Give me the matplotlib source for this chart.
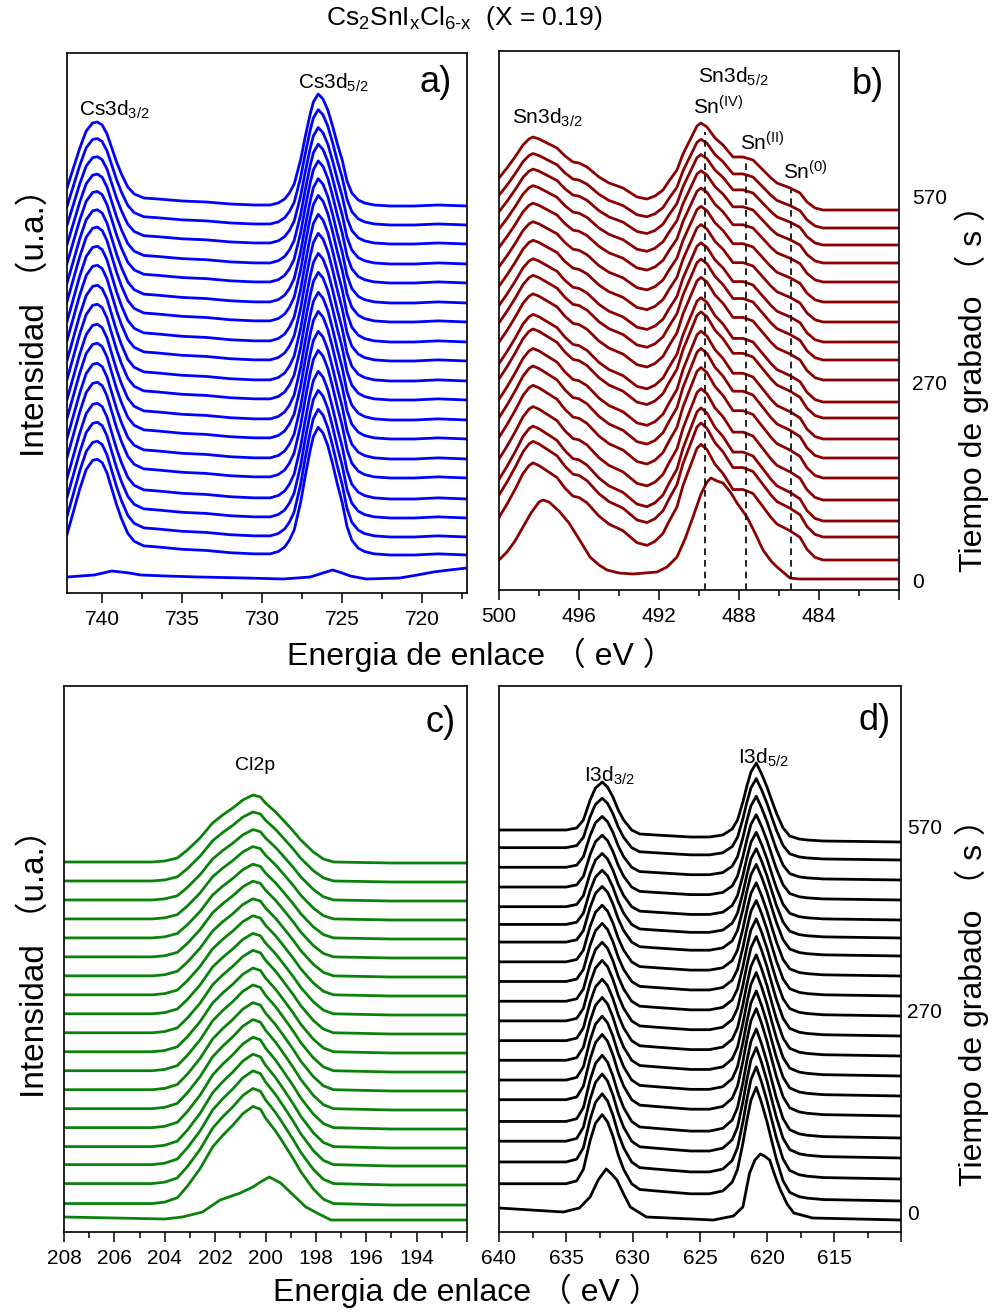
import numpy as np
import matplotlib
matplotlib.use("Agg")
import matplotlib.pyplot as plt
from matplotlib.ticker import MultipleLocator

W, H = 999, 1316

FONT = "Liberation Sans"
plt.rcParams["font.family"] = [FONT, "Noto Sans CJK SC", "DejaVu Sans"]
plt.rcParams["mathtext.fontset"] = "custom"
plt.rcParams["mathtext.rm"] = FONT
plt.rcParams["mathtext.it"] = FONT + ":italic"

# etching times, top (570 s) down to 30 s; the 0 s spectrum is kept apart
TIMES = [570, 540, 510, 480, 450, 420, 390, 360, 330, 300,
         270, 240, 210, 180, 150, 120, 90, 60, 30]

# ---------------- a) Cs3d ----------------
A_E = [742.2, 741.8, 741.4, 741.0, 740.6, 740.3, 740.0, 739.7, 739.4, 739.1,
       738.8, 738.4, 738.0, 737.4, 736.5, 735.0, 733.5, 732.0, 730.5, 729.5,
       729.0, 728.6, 728.3, 728.0, 727.6, 727.3, 727.0, 726.8, 726.5, 726.2,
       725.9, 725.6, 725.3, 725.0, 724.7, 724.4, 724.0, 723.6, 723.0, 722.0,
       720.5, 719.0, 717.2]
A_TOP = [18, 38, 58, 75, 83, 84, 81, 72, 58, 44,
         32, 19, 12, 8, 7, 5, 4, 2, 1, 1,
         3, 7, 13, 22, 46, 70, 92, 104, 112, 107,
         96, 80, 62, 46, 25, 13, 6, 3, 1, 0,
         0, 1, 0]
A_OFFSET = [387, 368, 349, 329, 310, 290, 271, 251, 232, 212,
            193, 173, 154, 134, 115, 94, 75, 56, 38]
A_SCALE = [1.00, 1.03, 1.04, 1.07, 1.09, 1.11, 1.13, 1.14, 1.14, 1.14,
           1.14, 1.14, 1.14, 1.14, 1.14, 1.14, 1.14, 1.14, 1.14]
A0_E = [742.2, 740.5, 739.4, 738.3, 737.6, 736.0, 734.0, 731.0, 728.7, 727.0,
        726.2, 725.6, 725.0, 724.5, 723.5, 721.4, 720.3, 719.3, 718.3, 717.2]
A0 = [16, 18, 22, 20, 18, 17, 16, 15, 14, 16,
      20, 23, 20, 17, 14, 15, 18, 21, 23, 25]

# ---------------- b) Sn3d ----------------
B_E = [500.0, 499.6, 499.2, 498.8, 498.5, 498.3, 498.0, 497.6, 497.1, 496.7,
       496.3, 496.0, 495.6, 495.0, 494.5, 493.8, 493.1, 492.6, 492.2, 491.8,
       491.5, 491.1, 490.8, 490.45, 490.1, 489.9, 489.6, 489.2, 488.8, 488.3,
       487.8, 487.3, 486.8, 486.4, 486.1, 485.45, 484.95, 484.6, 484.2, 483.8,
       482.0, 480.0]
B_TOP = [32, 42, 53, 65, 71, 73, 71, 67, 62, 54,
         48, 47, 43, 33, 27, 22, 13, 11, 14, 20,
         29, 40, 56, 70, 84, 87, 83, 72, 65, 53,
         53, 50, 40, 32, 27, 22, 17, 8, 2, 0,
         0, 0]
B_OFFSET = [380, 362, 345, 327, 308, 288, 268, 248, 230, 210,
            188, 172, 151, 132, 112, 90, 69, 53, 30]
B_SCALE = [1.00, 1.02, 1.04, 1.06, 1.08, 1.10, 1.12, 1.14, 1.16, 1.18,
           1.20, 1.22, 1.24, 1.26, 1.27, 1.28, 1.30, 1.31, 1.33]
B0_E = [500.0, 499.6, 499.2, 498.8, 498.4, 498.0, 497.8, 497.5, 497.0, 496.5,
        496.0, 495.45, 495.0, 494.6, 494.0, 493.3, 492.7, 492.1, 491.6, 491.1,
        490.7, 490.3, 489.9, 489.6, 489.4, 489.1, 488.8, 488.4, 488.1, 487.6,
        487.2, 486.8, 486.4, 486.1, 485.45, 485.0, 482.0, 480.0]
B0 = [30, 38, 49, 63, 77, 88, 90, 88, 79, 67,
      51, 33, 25, 20, 17, 16, 17, 18, 23, 33,
      51, 73, 96, 108, 112, 109, 107, 97, 87, 73,
      57, 40, 29, 23, 12, 11, 11, 11]
SN_STATES = ["IV", "II", "0"]
SN_E = [489.7, 487.65, 485.4]
SN_TOP = [458, 428, 400]

# ---------------- c) Cl2p ----------------
C_E = [208.0, 206.0, 204.5, 204.0, 203.5, 203.1, 202.6, 202.1, 201.7, 201.3,
       200.9, 200.5, 200.2, 200.0, 199.6, 199.3, 198.9, 198.6, 198.1, 197.7,
       197.3, 195.0, 192.0]
C_TOP = [1, 1, 1, 2, 5, 13, 25, 40, 48, 55,
         63, 68, 66, 60, 51, 43, 32, 23, 11, 4,
         1, 0, 0]
C_OFFSET = [369, 350, 331, 312, 293, 274, 255, 236, 217, 198,
            179, 160, 141, 122, 103, 84, 66, 47, 27]
C_SCALE = [1.00, 1.03, 1.05, 1.08, 1.10, 1.13, 1.15, 1.18, 1.20, 1.23,
           1.25, 1.28, 1.30, 1.33, 1.35, 1.38, 1.40, 1.42, 1.45]
C0_E = [208.0, 206.0, 204.0, 203.3, 202.5, 201.8, 201.0, 200.5, 200.2, 199.85,
        199.4, 198.9, 198.4, 197.8, 197.4, 195.0, 192.0]
C0 = [15, 14, 13, 15, 20, 32, 39, 45, 50, 55,
      49, 37, 25, 17, 12, 12, 12]

# ---------------- d) I3d ----------------
D_E = [640.0, 635.0, 634.2, 633.7, 633.2, 632.8, 632.3, 631.9, 631.5, 631.1,
       630.7, 630.1, 629.5, 628.3, 627.0, 625.7, 624.3, 623.3, 622.6, 622.2,
       621.8, 621.5, 621.2, 620.8, 620.4, 620.0, 619.6, 619.3, 618.8, 618.3,
       617.6, 617.0, 615.8, 610.0]
D_TOP = [12, 12, 14, 22, 42, 54, 60, 55, 45, 32,
         22, 12, 8, 7, 6, 5, 5, 7, 13, 22,
         40, 56, 70, 79, 68, 55, 40, 29, 14, 6,
         3, 2, 1, 0]
D_OFFSET = [390, 372, 352, 332, 312, 294, 276, 256, 236, 216,
            196, 176, 156, 136, 116, 94, 74, 53, 31]
D_SCALE = [1.00, 1.03, 1.06, 1.08, 1.11, 1.13, 1.16, 1.18, 1.21, 1.23,
           1.26, 1.28, 1.31, 1.33, 1.36, 1.38, 1.40, 1.42, 1.44]
D0_E = [640.0, 635.2, 634.0, 633.2, 632.6, 632.0, 631.6, 631.2, 630.7, 630.2,
        629.0, 624.0, 622.5, 621.8, 621.3, 620.9, 620.5, 620.2, 619.8, 619.4,
        619.0, 618.5, 618.0, 616.6, 610.0]
D0 = [24, 20, 24, 35, 52, 63, 58, 52, 38, 25,
      15, 12, 16, 25, 59, 72, 78, 76, 72, 56,
      42, 28, 19, 14, 12]

# tick positions and labels per panel
A_TICKS = [740, 735, 730, 725, 720]
A_LABELS = ["740", "735", "730", "725", "720"]
B_TICKS = [500, 496, 492, 488, 484, 480]
B_LABELS = ["500", "496", "492", "488", "484", ""]
C_TICKS = [208, 206, 204, 202, 200, 198, 196, 194, 192]
C_LABELS = ["208", "206", "204", "202", "200", "198", "196", "194", ""]
D_TICKS = [640, 635, 630, 625, 620, 615, 610]
D_LABELS = ["640", "635", "630", "625", "620", "615", ""]
TIME_LABELS = ["570", "270", "0"]

LW = 2.0


def px_axes(fig, left, top, right, bottom):
    return fig.add_axes([left / W, 1 - bottom / H, (right - left) / W, (bottom - top) / H])


def ftext(fig, x, y, s, **kw):
    return fig.text(x / W, 1 - y / H, s, **kw)


def draw_stack(ax, e, top, offsets, scales, e0, first, color):
    ax.plot(e0, first, color=color, lw=LW, solid_joinstyle="round")
    prof = np.array(top, dtype=float)
    for off, sc in zip(offsets, scales):
        ax.plot(e, off + sc * prof, color=color, lw=LW, solid_joinstyle="round")


def style_axis(ax, xlim, ylim, ticks, labels, minor):
    ax.set_xlim(*xlim)
    ax.set_ylim(*ylim)
    ax.set_yticks([])
    ax.set_xticks(ticks)
    ax.set_xticklabels(labels, fontsize=15)
    ax.xaxis.set_minor_locator(MultipleLocator(minor))
    ax.tick_params(axis="x", which="major", direction="out", length=7, width=1.1, pad=5)
    ax.tick_params(axis="x", which="minor", direction="out", length=4, width=1.1)
    for sp in ax.spines.values():
        sp.set_linewidth(1.2)


fig = plt.figure(figsize=(W / 100, H / 100), dpi=100)

ax_a = px_axes(fig, 67, 53, 467, 593)
ax_b = px_axes(fig, 499, 51, 899, 590)
ax_c = px_axes(fig, 64, 686, 467, 1232)
ax_d = px_axes(fig, 499, 686, 901, 1232)

draw_stack(ax_a, A_E, A_TOP, A_OFFSET, A_SCALE, A0_E, A0, "#0000FF")
draw_stack(ax_b, B_E, B_TOP, B_OFFSET, B_SCALE, B0_E, B0, "#8B0000")
draw_stack(ax_c, C_E, C_TOP, C_OFFSET, C_SCALE, C0_E, C0, "#0A820A")
draw_stack(ax_d, D_E, D_TOP, D_OFFSET, D_SCALE, D0_E, D0, "black")

ax_b.vlines(SN_E, 0, SN_TOP, colors="black", linestyles=(0, (4, 3)), lw=1.2, zorder=5)

style_axis(ax_a, (742.2, 717.2), (0, 540), A_TICKS, A_LABELS, 2.5)
style_axis(ax_b, (500, 480), (0, 539), B_TICKS, B_LABELS, 2)
style_axis(ax_c, (208, 192), (0, 546), C_TICKS, C_LABELS, 1)
style_axis(ax_d, (640, 610), (0, 546), D_TICKS, D_LABELS, 2.5)

# title
ftext(fig, 464, 18, r"Cs$_{\mathrm{2}}$SnI$_{\mathrm{x}}$Cl$_{\text{6-x}}$  (X = 0.19)",
      fontsize=19, ha="center", va="center")

# panel letters
for x, y, s in [(436, 83, "a)"), (868, 84, "b)"), (441, 722, "c)"), (875, 720, "d)")]:
    ftext(fig, x, y, s, fontsize=26, ha="center", va="center")

# peak labels
ftext(fig, 114, 110, r"Cs3d$_{3/2}$", fontsize=15, ha="center", va="center")
ftext(fig, 333, 83, r"Cs3d$_{5/2}$", fontsize=15, ha="center", va="center")
ftext(fig, 547, 118, r"Sn3d$_{3/2}$", fontsize=15, ha="center", va="center")
ftext(fig, 733, 77, r"Sn3d$_{5/2}$", fontsize=15, ha="center", va="center")
ftext(fig, 718, 107, r"Sn$^{\mathrm{(IV)}}$", fontsize=15, ha="center", va="center")
ftext(fig, 762, 143, r"Sn$^{\mathrm{(II)}}$", fontsize=15, ha="center", va="center")
ftext(fig, 805, 172, r"Sn$^{\mathrm{(0)}}$", fontsize=15, ha="center", va="center")
ftext(fig, 255, 765, "Cl2p", fontsize=14, ha="center", va="center")
ftext(fig, 609, 776, r"I3d$_{3/2}$", fontsize=15, ha="center", va="center")
ftext(fig, 763, 758, r"I3d$_{5/2}$", fontsize=15, ha="center", va="center")

# etching time labels on the right
for (y, s) in zip([198, 384, 582], TIME_LABELS):
    ftext(fig, 912, y, s, fontsize=15, ha="left", va="center")
for (y, s) in zip([828, 1013, 1215], TIME_LABELS):
    ftext(fig, 907, y, s, fontsize=15, ha="left", va="center")

# axis titles
ftext(fig, 35, 314, "Intensidad （u.a.）", fontsize=24, rotation=90, ha="center", va="center")
ftext(fig, 35, 955, "Intensidad （u.a.）", fontsize=24, rotation=90, ha="center", va="center")
ftext(fig, 972, 380, "Tiempo de grabado （ s ）", fontsize=23, rotation=90, ha="center", va="center")
ftext(fig, 972, 995, "Tiempo de grabado （ s ）", fontsize=23, rotation=90, ha="center", va="center")
ftext(fig, 481, 655, "Energia de enlace （ eV ）", fontsize=23, ha="center", va="center")
ftext(fig, 467, 1291, "Energia de enlace （ eV ）", fontsize=23, ha="center", va="center")

fig.savefig("out.png", dpi=100, facecolor="white")
